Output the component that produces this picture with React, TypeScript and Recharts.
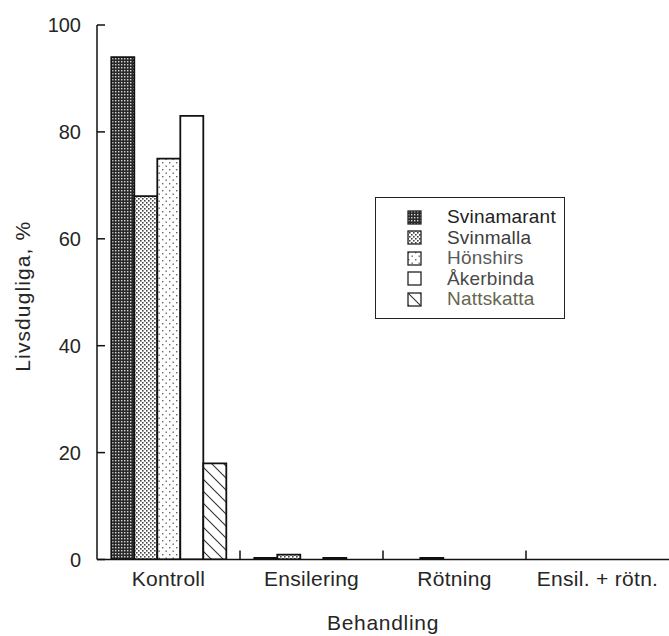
import React from 'react';
import { BarChart, Bar, XAxis, YAxis, Legend } from 'recharts';

const categories = ['Kontroll', 'Ensilering', 'Rötning', 'Ensil. + rötn.'];
const svinamarant = [94, 0.3, 0, 0];
const svinmalla = [68, 0.9, 0.3, 0];
const honshirs = [75, 0, 0, 0];
const akerbinda = [83, 0.3, 0, 0];
const nattskatta = [18, 0, 0, 0];
const yTicks = [0, 20, 40, 60, 80, 100];

const seriesNames = ['Svinamarant', 'Svinmalla', 'Hönshirs', 'Åkerbinda', 'Nattskatta'];
const seriesValues = [svinamarant, svinmalla, honshirs, akerbinda, nattskatta];
const seriesFills = ['url(#pDark)', 'url(#pMed)', 'url(#pSparse)', '#ffffff', 'url(#pHatch)'];
const legendColors = ['#222222', '#3c3c3c', '#5a5a5a', '#4a4a4a', '#66664e'];

const data = categories.map((c, i) => {
  const row: any = { cat: c };
  seriesNames.forEach((s, j) => {
    row[s] = seriesValues[j][i];
  });
  return row;
});

const FONT = 'Liberation Sans, Arial, Helvetica, sans-serif';
const TEXT = '#262626';

const XTick = (props: any) => {
  const { x, y, payload, index } = props;
  const half = payload && typeof payload.offset === 'number' && payload.offset > 0 ? payload.offset : 71.5;
  const axisY = y - 11;
  return (
    <g>
      <text x={x} y={y} dy="0.74em" textAnchor="middle" fontSize={21} fontFamily={FONT} fill={TEXT} letterSpacing={0.3}>
        {payload.value}
      </text>
      {index < categories.length - 1 ? (
        <line x1={x + half} x2={x + half} y1={axisY} y2={axisY - 9} stroke="#111" strokeWidth={1.5} />
      ) : null}
    </g>
  );
};

const YLabel = (props: any) => {
  const vb = props.viewBox || { x: 0, y: 0, width: 0, height: 0 };
  const cx = 22;
  const cy = vb.y + vb.height / 2 + 4;
  return (
    <text
      x={cx}
      y={cy}
      transform={`rotate(-90 ${cx} ${cy})`}
      textAnchor="middle"
      dominantBaseline="central"
      fontSize={21}
      fontFamily={FONT}
      fill={TEXT}
      letterSpacing={1.1}
    >
      Livsdugliga, %
    </text>
  );
};

const XLabel = (props: any) => {
  const vb = props.viewBox || { x: 0, y: 0, width: 0, height: 0 };
  const cx = vb.x + vb.width / 2;
  return (
    <text x={cx} y={630} textAnchor="middle" fontSize={21} fontFamily={FONT} fill={TEXT} letterSpacing={0.7}>
      Behandling
    </text>
  );
};

const LegendBox = (props: any) => {
  const payload = [...(props.payload || [])].sort(
    (a: any, b: any) => seriesNames.indexOf(a.dataKey ?? a.value) - seriesNames.indexOf(b.dataKey ?? b.value)
  );
  return (
    <div
      style={{
        width: 190,
        height: 122,
        boxSizing: 'border-box',
        border: '1.5px solid #222',
        background: '#fff',
        paddingTop: 9,
      }}
    >
      {payload.map((p: any, i: number) => {
        const idx = seriesNames.indexOf(p.dataKey ?? p.value);
        return (
          <div key={i} style={{ display: 'flex', alignItems: 'center', height: 20.5 }}>
            <svg width={15} height={15} style={{ marginLeft: 31, flex: 'none' }}>
              <rect x={1} y={1} width={13} height={13} fill={seriesFills[idx]} stroke="#222" strokeWidth={1.3} />
            </svg>
            <span
              style={{
                marginLeft: 25,
                fontSize: 19,
                fontFamily: FONT,
                color: legendColors[idx],
                lineHeight: '20px',
                letterSpacing: 0.2,
              }}
            >
              {p.value}
            </span>
          </div>
        );
      })}
    </div>
  );
};

export default function App() {
  return (
    <div style={{ position: 'absolute', left: 0, top: 0, width: 669, height: 636, background: '#fff' }}>
      <BarChart
        width={669}
        height={636}
        data={data}
        margin={{ top: 25, right: 0, left: 0, bottom: 17 }}
        barCategoryGap="10%"
        barGap={0}
      >
        <defs>
          <pattern id="pDark" width={3} height={3} patternUnits="userSpaceOnUse">
            <rect width={3} height={3} fill="#2a2a2a" />
            <rect x={1} y={1} width={1.4} height={1.4} fill="#d8d8d8" />
          </pattern>
          <pattern id="pMed" width={4} height={4} patternUnits="userSpaceOnUse">
            <rect width={4} height={4} fill="#ffffff" />
            <rect x={0} y={0} width={1.6} height={1.6} fill="#444" />
            <rect x={2} y={2} width={1.6} height={1.6} fill="#444" />
          </pattern>
          <pattern id="pSparse" width={7} height={7} patternUnits="userSpaceOnUse">
            <rect width={7} height={7} fill="#ffffff" />
            <rect x={1} y={1} width={1.4} height={1.4} fill="#666" />
            <rect x={4.5} y={4.5} width={1.4} height={1.4} fill="#666" />
          </pattern>
          <pattern id="pHatch" width={12} height={12} patternUnits="userSpaceOnUse">
            <rect width={12} height={12} fill="#ffffff" />
            <path d="M0,0 L12,12 M-3,9 L3,15 M9,-3 L15,3" stroke="#333" strokeWidth={1.1} />
          </pattern>
        </defs>
        <XAxis
          dataKey="cat"
          type="category"
          height={59.5}
          tickSize={0}
          tickMargin={11}
          tickLine={false}
          tick={<XTick />}
          axisLine={{ stroke: '#111', strokeWidth: 1.5 }}
          interval={0}
          label={<XLabel />}
        />
        <YAxis
          type="number"
          domain={[0, 100]}
          ticks={yTicks}
          width={97}
          tickSize={-8}
          tickMargin={24}
          tickLine={{ stroke: '#111', strokeWidth: 1.5 }}
          axisLine={{ stroke: '#111', strokeWidth: 1.5 }}
          tick={{ fontSize: 20, fontFamily: FONT, fill: TEXT }}
          label={<YLabel />}
          allowDataOverflow
        />
        <Legend
          layout="vertical"
          align="center"
          verticalAlign="middle"
          itemSorter={null as any}
          content={<LegendBox />}
          wrapperStyle={{ position: 'absolute', left: 375, top: 197, width: 190, height: 122, right: 'auto', bottom: 'auto' }}
        />
        {seriesNames.map((s, j) => (
          <Bar
            key={s}
            dataKey={s}
            name={s}
            fill={seriesFills[j]}
            stroke="#111"
            strokeWidth={1.8}
            isAnimationActive={false}
          />
        ))}
      </BarChart>
    </div>
  );
}
